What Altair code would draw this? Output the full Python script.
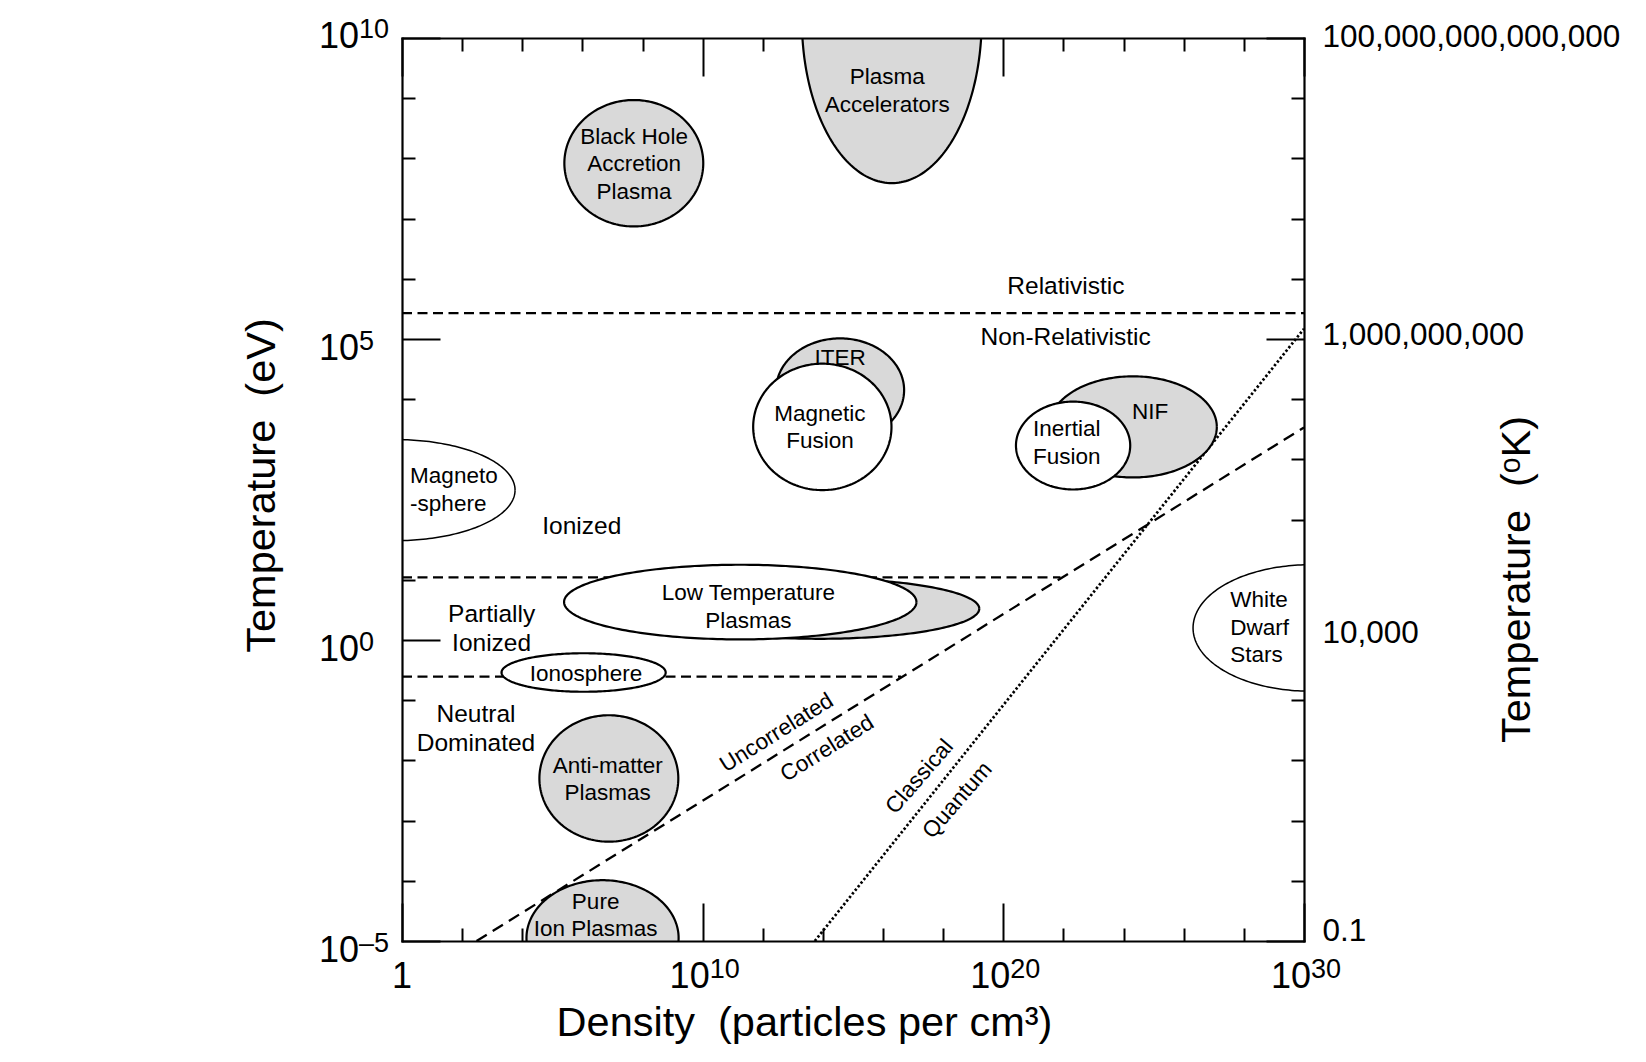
import altair as alt
import numpy as np
import pandas as pd

FONT = "Liberation Sans"
W, H = 902, 903
GRAY = "#d9d9d9"

# ---------------- axis values (log10 units) ----------------
x_major = [0, 10, 20, 30]
x_base = ["1", "10", "10", "10"]
x_exp = ["", "10", "20", "30"]
x_minor = [2, 4, 6, 8, 12, 14, 16, 18, 22, 24, 26, 28]
y_major = [-5, 0, 5, 10]
y_base = ["10", "10", "10", "10"]
y_exp = ["–5", "0", "5", "10"]
y_minor = [-4, -3, -2, -1, 1, 2, 3, 4, 6, 7, 8, 9]
k_values = [14, 9, 4, -1]
k_labels = ["100,000,000,000,000", "1,000,000,000", "10,000", "0.1"]
k_domain = [-1.13, 14.02]
X_DOMAIN = [0, 30]
Y_DOMAIN = [-5, 10]

# ---------------- plasma regions (ellipses, log10 units) ----------------
region_name = ["Black Hole", "Plasma Accelerators", "ITER", "NIF", "Low Temperature hot",
               "Anti-matter", "Pure Ion", "Magnetic Fusion", "Inertial Fusion",
               "Low Temperature", "Ionosphere", "Magnetosphere", "White Dwarf"]
region_group = ["grey"] * 7 + ["white"] * 4 + ["white thin"] * 2
region_cx = [7.71, 16.29, 14.57, 24.31, 13.90, 6.88, 6.67, 13.98, 22.32, 11.25, 6.04, -0.23, 30.20]
region_cy = [7.92, 10.30, 4.15, 3.54, 0.52, -2.30, -4.95, 3.54, 3.23, 0.63, -0.54, 2.49, 0.20]
region_rx = [2.31, 2.99, 2.13, 2.79, 5.30, 2.31, 2.53, 2.30, 1.90, 5.86, 2.73, 3.99, 3.89]
region_ry = [1.05, 2.71, 0.86, 0.84, 0.50, 1.05, 0.96, 1.05, 0.73, 0.62, 0.32, 0.84, 1.05]

# ---------------- boundaries ----------------
bound_kind = ["dash", "dash", "dash", "diag", "dot"]
bound_x0 = [0.0, 0.0, 0.0, 2.48, 13.73]
bound_y0 = [5.43, 1.04, -0.61, -5.0, -5.0]
bound_x1 = [30.0, 21.9, 16.6, 30.0, 30.0]
bound_y1 = [5.43, 1.04, -0.61, 3.53, 5.17]

# ---------------- labels ----------------
shape_text = ["Plasma\nAccelerators", "Black Hole\nAccretion\nPlasma", "ITER", "Magnetic\nFusion",
              "NIF", "Inertial\nFusion", "Low Temperature\nPlasmas", "Ionosphere",
              "Anti-matter\nPlasmas", "Pure\nIon Plasmas"]
shape_tx = [16.14, 7.72, 14.57, 13.90, 24.88, 22.11, 11.52, 6.12, 6.84, 6.44]
shape_ty = [9.35, 8.36, 4.68, 3.76, 3.79, 3.50, 0.78, -0.57, -2.09, -4.35]

left_text = ["Magneto\n-sphere", "White\nDwarf\nStars"]
left_tx = [0.27, 27.55]
left_ty = [2.72, 0.66]

zone_text = ["Relativistic", "Non-Relativistic", "Ionized", "Partially\nIonized", "Neutral\nDominated"]
zone_tx = [22.08, 22.07, 5.98, 2.98, 2.46]
zone_ty = [5.86, 5.02, 1.88, 0.42, -1.25]

rot_text = ["Uncorrelated", "Correlated", "Classical", "Quantum"]
rot_tx = [12.46, 14.14, 17.21, 18.47]
rot_ty = [-1.54, -1.80, -2.27, -2.66]
rot_angle = [328, 328, 311, 311]

# ---------------- build tables ----------------
t = np.linspace(0, 2 * np.pi, 241)
rows = []
for nm, gp, cx, cy, rx, ry in zip(region_name, region_group, region_cx, region_cy, region_rx, region_ry):
    for i, a in enumerate(t):
        rows.append({"name": nm, "group": gp, "i": i,
                     "x": cx + rx * np.cos(a), "y": cy + ry * np.sin(a)})
regions = pd.DataFrame(rows)

bounds = pd.DataFrame({"kind": bound_kind, "x": bound_x0, "y": bound_y0,
                       "x2": bound_x1, "y2": bound_y1})

xticks = pd.DataFrame({"x": x_major, "y": [Y_DOMAIN[0]] * 4, "b": x_base, "e": x_exp})
yticks = pd.DataFrame({"x": [X_DOMAIN[0]] * 4, "y": y_major, "b": y_base, "e": y_exp})

xs = alt.Scale(domain=X_DOMAIN, nice=False, zero=False)
ys = alt.Scale(domain=Y_DOMAIN, nice=False, zero=False)
X = lambda: alt.X("x:Q", scale=xs, axis=None)
Y = lambda: alt.Y("y:Q", scale=ys, axis=None)


def lab_expr(vals, labs):
    e = "''"
    for v, l in zip(vals, labs):
        e = f"(abs(datum.value - ({v})) < 1e-6) ? '{l}' : {e}"
    return e


common = dict(grid=False, labelFont=FONT, labelColor="black", titleFont=FONT,
              titleColor="black", titleFontWeight="normal", tickColor="black",
              domainColor="black")
dummy = pd.DataFrame({"x": [0.0], "y": [0.0]})


def axis_layer(xaxis, yaxis):
    return alt.Chart(dummy).mark_point(opacity=0).encode(
        x=alt.X("x:Q", scale=xs, axis=xaxis), y=alt.Y("y:Q", scale=ys, axis=yaxis))


lab_x = alt.Axis(orient="bottom", labels=False, ticks=False, domain=True, domainWidth=2.2,
                 domainCap="square", zindex=1,
                 title="Density\u00a0 (particles per cm³)", titleFontSize=41.5,
                 titleX=402, titleY=82, titleAlign="center", titleBaseline="middle", **common)
lab_y = alt.Axis(orient="left", labels=False, ticks=False, domain=True, domainWidth=2.2,
                 domainCap="square", zindex=1,
                 title="Temperature\u00a0 (eV)", titleFontSize=41.5, titleAngle=270,
                 titleX=-140, titleY=447, titleAlign="center", titleBaseline="middle", **common)
L1 = axis_layer(lab_x, lab_y)

frame_x = alt.Axis(orient="top", labels=False, ticks=False, domain=True, domainWidth=2.2,
                   domainCap="square", zindex=1, title=None, **common)
frame_y = alt.Axis(orient="right", labels=False, ticks=False, domain=True, domainWidth=2.2,
                   domainCap="square", zindex=1, title=None, **common)
L2 = axis_layer(frame_x, frame_y)


def tick_axes(vals_x, vals_y, size, xorient, yorient):
    ax = alt.Axis(orient=xorient, offset=-H, values=vals_x, tickSize=size, tickWidth=2,
                  labels=False, domain=False, title=None, **common)
    ay = alt.Axis(orient=yorient, offset=-W, values=vals_y, tickSize=size, tickWidth=2,
                  labels=False, domain=False, title=None, **common)
    return axis_layer(ax, ay)


L3 = tick_axes(x_major, y_major, 38, "top", "right")
L4 = tick_axes(x_minor, y_minor, 13, "top", "right")
L5 = tick_axes(x_major, y_major, 38, "bottom", "left")
L6 = tick_axes(x_minor, y_minor, 13, "bottom", "left")


# boundaries
def rule_layer(kind, dash, sw):
    return alt.Chart(bounds[bounds["kind"] == kind]).mark_rule(
        color="black", strokeWidth=sw, strokeDash=dash).encode(
        x=X(), y=Y(), x2="x2:Q", y2="y2:Q")


B1 = rule_layer("dash", [10, 5.5], 2.3)
B2 = rule_layer("diag", [12, 7], 2.3)
B3 = rule_layer("dot", [2.4, 2.2], 2.7)


def region_layer(group, fill, sw):
    return alt.Chart(regions[regions["group"] == group]).mark_line(
        fill=fill, stroke="black", strokeWidth=sw, clip=True).encode(
        x=X(), y=Y(), detail="name:N", order="i:Q")


R1 = region_layer("grey", GRAY, 2.2)
R2 = region_layer("white", "white", 2.2)
R3 = region_layer("white thin", "white", 1.5)


def text_layer(txt, tx, ty, size, lh, align="center", angle=None):
    df = pd.DataFrame({"x": tx, "y": ty, "t": txt})
    enc = dict(x=X(), y=Y(), text="t:N")
    if angle is not None:
        df["a"] = angle
        enc["angle"] = alt.Angle("a:Q", scale=None)
    return alt.Chart(df).mark_text(font=FONT, fontSize=size, lineBreak="\n", lineHeight=lh,
                                   align=align, baseline="middle", color="black").encode(**enc)


T1 = text_layer(shape_text, shape_tx, shape_ty, 22.5, 27.5)
T2 = text_layer(left_text, left_tx, left_ty, 22.5, 27.3, align="left")
T3 = text_layer(zone_text, zone_tx, zone_ty, 24.5, 29)
T4 = text_layer(rot_text, rot_tx, rot_ty, 22.5, 27, angle=rot_angle)


# tick labels (base + superscript exponent)
def tick_text(df, field, size, align, dx, dy):
    return alt.Chart(df).mark_text(font=FONT, fontSize=size, align=align, baseline="alphabetic",
                                   dx=dx, dy=dy, color="black").encode(
        x=X(), y=Y(), text=f"{field}:N")


xt_one = xticks[xticks["e"] == ""]
xt_pow = xticks[xticks["e"] != ""]
yt_top = yticks[yticks["y"] == Y_DOMAIN[1]]
yt_rest = yticks[yticks["y"] != Y_DOMAIN[1]]

TL = [
    tick_text(xt_one, "b", 36, "center", 0, 47),
    tick_text(xt_pow, "b", 36, "right", 7, 47),
    tick_text(xt_pow, "e", 27, "left", 7, 37),
    tick_text(yt_rest, "b", 36, "right", -43, 21),
    tick_text(yt_rest, "e", 27, "left", -43, 11),
    tick_text(yt_top, "b", 36, "right", -43, 10),
    tick_text(yt_top, "e", 27, "left", -43, 0),
]

inner = alt.layer(L1, L2, L3, L4, L5, L6, B1, B2, B3, R1, R2, R3, T1, T2, T3, T4, *TL).resolve_axis(
    x="independent", y="independent")

k_axis = alt.Axis(orient="right", values=k_values, labelExpr=lab_expr(k_values, k_labels),
                  ticks=False, domain=False, labelFontSize=31.5, labelPadding=18,
                  labelAlign="left", labelBaseline="middle", labelOffset=-2, labelLimit=0,
                  labelFlush=False, labelOverlap=False,
                  title="Temperature\u00a0 (ᵒK)", titleFontSize=41.5, titleAngle=270,
                  titleX=213, titleY=541, titleAlign="center", titleBaseline="middle", **common)
KL = alt.Chart(dummy).mark_point(opacity=0).encode(
    y=alt.Y("y:Q", scale=alt.Scale(domain=k_domain, nice=False, zero=False), axis=k_axis))

chart = alt.layer(inner, KL).resolve_scale(y="independent").properties(
    width=W, height=H,
    autosize=alt.AutoSizeParams(type="none"),
    padding={"left": 394, "top": 30, "right": 330, "bottom": 110},
    background="white",
).configure_view(stroke=None)

chart.save("out.html", embed_options={"renderer": "svg", "actions": False})
